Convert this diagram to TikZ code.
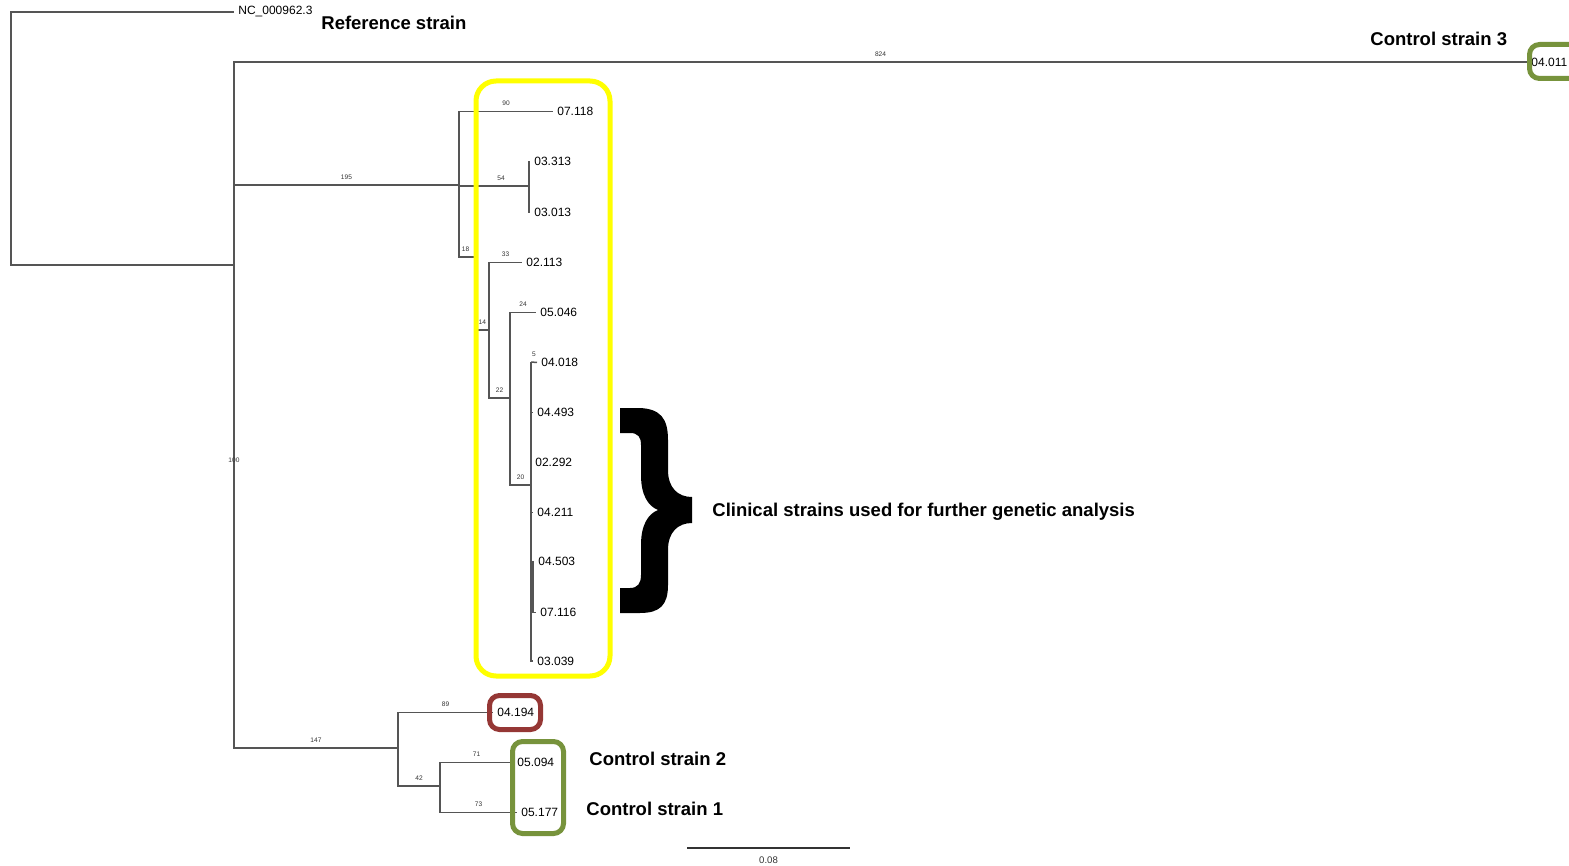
\documentclass[tikz,border=0pt]{standalone}
\usepackage{fontspec}
\setmainfont{Liberation Sans}
\definecolor{treegray}{RGB}{85,85,85}
\definecolor{boxyellow}{RGB}{255,255,0}
\definecolor{boxred}{RGB}{149,55,53}
\definecolor{boxgreen}{RGB}{119,147,60}
\begin{document}
\begin{tikzpicture}[x=0.5pt,y=-0.5pt,
  tree/.style={draw=treegray,line width=0.75pt},
  tip/.style={anchor=west,inner xsep=2pt,inner ysep=0pt,font=\fontsize{6}{7}\selectfont},
  bs/.style={pos=0.75,anchor=south,inner sep=0.5pt,yshift=2pt,font=\fontsize{3.3}{4}\selectfont,text=black!80},
  lab/.style={anchor=base west,inner sep=0pt,font=\fontsize{9.25}{11}\selectfont\bfseries},
  hlbox/.style={line width=2.5pt,rounded corners=5pt}]
\useasboundingbox (0,0) rectangle (1569,866);
\clip (0,0) rectangle (1569,866);

% internal nodes
\coordinate (root) at (11,138);
\coordinate (n100) at (234,265);
\coordinate (n195) at (459,185);
\coordinate (n54) at (529,186);
\coordinate (n18) at (475.5,257);
\coordinate (n14) at (489,330);
\coordinate (n22) at (510,398);
\coordinate (n20) at (531,485);
\coordinate (n5) at (531,362);
\coordinate (nB) at (533,586);
\coordinate (n147) at (398,748);
\coordinate (n42) at (440,786);
\coordinate (k1) at (531,387);
\coordinate (k2) at (531,412);

% tips
\node[tip] (nc) at (234,12) {NC\_000962.3};
\node[tip] (t04011) at (1527,62) {04.011};
\node[tip] (t07118) at (553,111.5) {07.118};
\node[tip] (t03313) at (530,161.5) {03.313};
\node[tip] (t03013) at (530,212.5) {03.013};
\node[tip] (t02113) at (522,262.5) {02.113};
\node[tip] (t05046) at (536,312.5) {05.046};
\node[tip] (t04018) at (537,362.5) {04.018};
\node[tip] (t04493) at (533,412.5) {04.493};
\node[tip] (t02292) at (531,462.5) {02.292};
\node[tip] (t04211) at (533,512.5) {04.211};
\node[tip] (t04503) at (534,561.5) {04.503};
\node[tip] (t07116) at (536,612.5) {07.116};
\node[tip] (t03039) at (533,661) {03.039};
\node[tip] (t04194) at (493,712.5) {04.194};
\node[tip] (t05094) at (513,762.5) {05.094};
\node[tip] (t05177) at (517,812.5) {05.177};

% edges
\draw[tree] (root) |- (nc.west);
\draw[tree] (root) |- (n100);
\draw[tree] (n100) |- node[bs]{824} (t04011.west);
\draw[tree] (n100) |- node[bs]{195} (n195);
\draw[tree] (n100) |- node[bs]{147} (n147);
\node[inner sep=0pt,font=\fontsize{3.3}{4}\selectfont,text=black!80] (b100) at (234,460) {100};
\draw[tree] (n195) |- node[bs]{90} (t07118.west);
\draw[tree] (n195) |- node[bs,pos=0.8]{54} (n54);
\draw[tree] (n195) |- node[bs,pos=0.7]{18} (n18);
\draw[tree] (n54) |- (t03313.west);
\draw[tree] (n54) |- (t03013.west);
\draw[tree] (n18) |- node[bs]{14} (n14);
\draw[tree] (n14) |- node[bs]{33} (t02113.west);
\draw[tree] (n14) |- node[bs]{22} (n22);
\draw[tree] (n22) |- node[bs]{24} (t05046.west);
\draw[tree] (n22) |- node[bs]{20} (n20);
\draw[tree] (n20) |- (n5);
\draw[tree] (n5) -- node[bs,pos=0.5]{5} (t04018.west);
\draw[tree] (n20) |- (t04493.west);
\draw[tree,line width=1.3pt] (k1) -- (k2);
\draw[tree] (n20) |- (t02292.west);
\draw[tree] (n20) |- (t04211.west);
\draw[tree] (n20) |- (nB);
\draw[tree] (nB) |- (t04503.west);
\draw[tree] (nB) |- (t07116.west);
\draw[tree] (n20) |- (t03039.west);
\draw[tree] (n147) |- node[bs]{89} (t04194.west);
\draw[tree] (n147) |- node[bs]{42} (n42);
\draw[tree] (n42) |- node[bs]{71} (t05094.west);
\draw[tree] (n42) |- node[bs]{73} (t05177.west);

% highlight boxes
\draw[boxyellow,line width=2.5pt,rounded corners=10pt] (476,81) rectangle (610,676);
\draw[boxred,hlbox] (489.5,695.5) rectangle (540.5,729.5);
\draw[boxgreen,hlbox] (512.5,741.5) rectangle (563.5,833.5);
\draw[boxgreen,hlbox] (1529.5,44.5) rectangle (1590,78.5);

% brace
\fill[black] (620,408) -- (640,408) .. controls (660,409) and (668,418) .. (668,440)
  -- (668,470) .. controls (668,488) and (678,497) .. (692,497)
  -- (692,523) .. controls (678,523) and (668,532) .. (668,550)
  -- (668,585) .. controls (668,605) and (660,613) .. (640,613)
  -- (620,613) -- (620,588) -- (630,588) .. controls (638,588) and (641,583) .. (641,575)
  -- (641,545) .. controls (641,525) and (648,514) .. (658,510)
  .. controls (648,506) and (641,495) .. (641,475)
  -- (641,445) .. controls (641,437) and (638,433) .. (630,433) -- (620,433) -- cycle;

% annotations
\node[lab] (lref) at (321,29.5) {Reference strain};
\node[lab] (lc3) at (1370,45.5) {Control strain 3};
\node[lab] (lc2) at (589,765.5) {Control strain 2};
\node[lab] (lc1) at (586,815.5) {Control strain 1};
\node[lab] (lclin) at (712,516) {Clinical strains used for further genetic analysis};

% scale bar
\coordinate (sb1) at (687,848);
\coordinate (sb2) at (850,848);
\draw[draw=black!80,line width=0.75pt] (sb1) -- node[anchor=north,inner sep=0pt,yshift=-4pt,font=\fontsize{4.8}{5}\selectfont,text=black!80]{0.08} (sb2);
\end{tikzpicture}
\end{document}
